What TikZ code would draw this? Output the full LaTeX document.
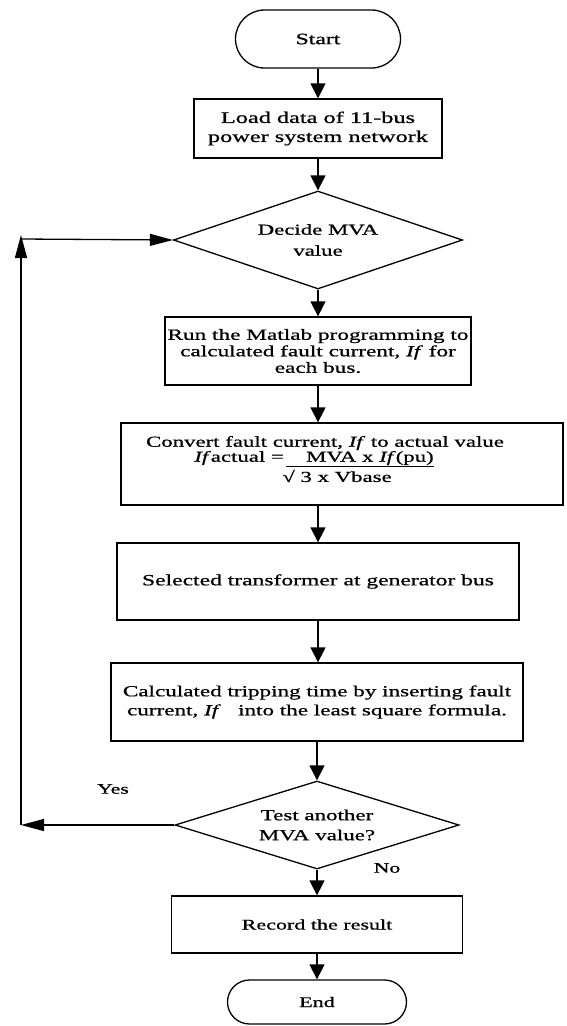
\documentclass[tikz,border=0pt]{standalone}
\usepackage{fontspec}
\setmainfont[FakeStretch=1.5,FakeBold=0.8]{Liberation Serif}
\usetikzlibrary{shapes.geometric,shapes.misc,arrows.meta}
\begin{document}
\begin{tikzpicture}[x=1pt,y=-1pt,
  font=\fontsize{15.5}{18}\selectfont,
  line width=1.3pt,
  box/.style={draw,rectangle,inner sep=2pt,align=center},
  term/.style={draw,rounded rectangle,inner sep=0pt},
  dec/.style={draw,diamond,inner sep=0pt,aspect=3,align=center},
  arr/.style={-{Triangle[width=15pt,length=15pt]}},
  larr/.style={-{Triangle[width=12pt,length=23pt]}},
  txt/.style={inner sep=0pt,anchor=center}]
\useasboundingbox (0,0) rectangle (567,1026);
\node[term,minimum width=165pt,minimum height=58pt,font=\fontsize{15.8}{18}\selectfont] (start) at (318,39) {Start};
\node[box,minimum width=248pt,minimum height=59pt,font=\fontsize{16.2}{19}\selectfont] (load) at (318,128.5) {Load data of 11-bus\\power system network};
\node[dec,minimum width=289pt,minimum height=98pt,font=\fontsize{15.2}{21}\selectfont] (decide) at (318,240) {Decide MVA\\value};
\node[box,minimum width=306pt,minimum height=68pt,font=\fontsize{15.5}{16.5}\selectfont] (run) at (318,351) {Run the Matlab programming to\\calculated fault current, \textit{If} for\\each bus.};
\node[box,minimum width=442pt,minimum height=82pt] (convert) at (342,464) {};
\node[txt,font=\fontsize{15.2}{17}\selectfont] (conv1) at (325,443) {Convert fault current, \textit{If} to actual value};
\node[txt,font=\fontsize{15.2}{17}\selectfont] (conv2) at (314,459) {\textit{If}actual =\,\underline{\hspace{1.3em}MVA x \textit{If}(pu)}};
\node[txt,font=\fontsize{15.2}{17}\selectfont] (conv3) at (337,476) {√ 3 x Vbase};
\node[box,minimum width=402pt,minimum height=77pt,font=\fontsize{15.7}{18}\selectfont] (sel) at (318,581.5) {Selected transformer at generator bus};
\node[box,minimum width=412pt,minimum height=78pt,font=\fontsize{15.4}{19}\selectfont] (calc) at (317,702) {Calculated tripping time by inserting fault\\current, \textit{If}\ \ \ into the least square formula.};
\node[dec,minimum width=284pt,minimum height=88pt,font=\fontsize{15.3}{20}\selectfont] (test) at (317,825) {Test another\\MVA value?};
\node[box,minimum width=291pt,minimum height=57pt,font=\fontsize{14.7}{18}\selectfont] (rec) at (317,924.5) {Record the result};
\node[term,minimum width=179pt,minimum height=44pt,font=\fontsize{14.7}{18}\selectfont] (endn) at (317,1002) {End};
\node[txt,font=\fontsize{14.5}{18}\selectfont] (yes) at (113,789) {Yes};
\node[txt,font=\fontsize{14.5}{18}\selectfont] (no) at (387,868) {No};
\coordinate (lb) at (21,825);
\coordinate (lt) at (21,235);
\coordinate (lh) at (21,239);
\draw[arr] (start.south) -- (start.south |- load.north);
\draw[arr] (load.south) -- (load.south |- decide.north);
\draw[arr] (decide.south) -- (decide.south |- run.north);
\draw[arr] (run.south) -- (run.south |- convert.north);
\draw[arr] (run.south |- convert.south) -- (sel.north);
\draw[arr] (sel.south) -- (sel.south |- calc.north);
\draw[arr] (calc.south) -- (calc.south |- test.north);
\draw[arr] (test.south) -- (test.south |- rec.north);
\draw[arr] (rec.south) -- (rec.south |- endn.north);
\draw[larr] (test.west) -- (lb);
\draw[larr] (lb) -- (lt);
\draw[larr] (lh) -- (decide.west);
\end{tikzpicture}
\end{document}
